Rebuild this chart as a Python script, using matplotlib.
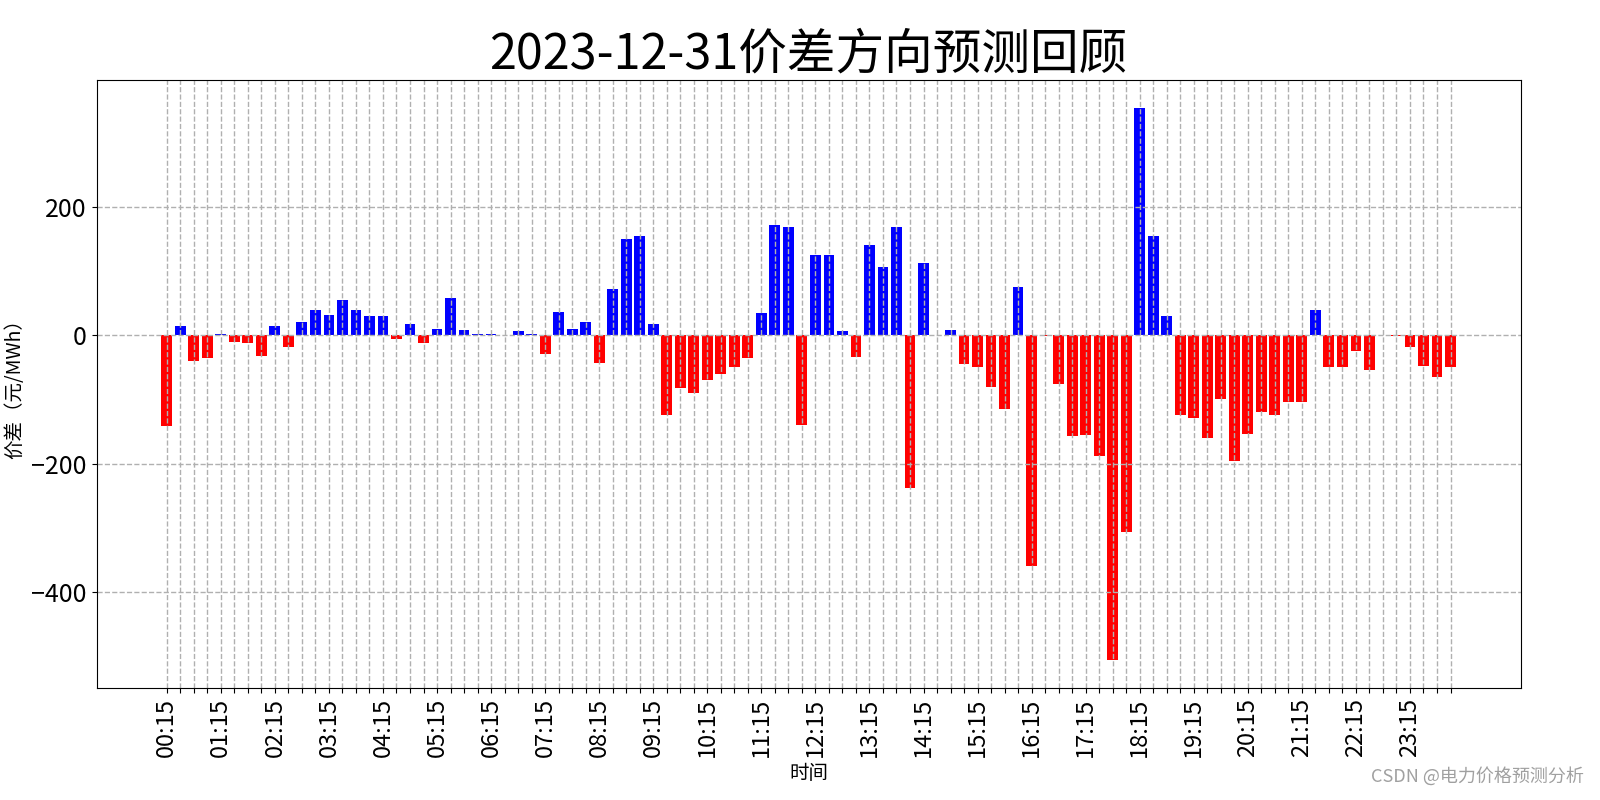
import matplotlib
matplotlib.use("Agg")
import matplotlib.pyplot as plt
import numpy as np

plt.rcParams['font.family'] = ['Noto Sans CJK SC', 'DejaVu Sans']
plt.rcParams['axes.unicode_minus'] = True

date = "2023-12-31"

# 15分钟价差 (元/MWh), 00:15 ... 24:00
spread = [
    -141, 14, -40, -35.5, 1.5, -11, -12, -32, 14, -18,
    20, 39, 31, 55, 39, 30, 30, -6, 17, -12,
    9, 58, 8, 1.5, 1.5, 0, 6, 1.5, -29, 36,
    9, 20, -43, 72, 150, 155, 17, -125, -82.5, -90,
    -70, -60.5, -49.5, -35.5, 34.5, 172, 169, -140, 125, 125,
    6.8, -34.5, 141, 106.5, 169, -237.5, 113, 0, 7.8, -45,
    -49.5, -80.5, -114.5, 74.5, -359, -1.5, -75.5, -157, -155, -188,
    -506, -306, 354, 154, 29.5, -124, -128.5, -159.5, -99, -196,
    -154, -120, -124.5, -104, -104, 39, -49.5, -49.5, -24.5, -54,
    0, -2, -18, -48, -65, -49.5,
]

times = []
for i in range(96):
    m = (i + 1) * 15
    times.append(f"{m // 60:02d}:{m % 60:02d}")

x = np.arange(len(spread))
colors = ['blue' if v > 0 else 'red' for v in spread]

fig = plt.figure(figsize=(16, 8), dpi=100)
ax = fig.add_axes([0.0604, 0.14, 0.89, 0.76])

ax.bar(x, spread, color=colors, width=0.8)
ax.grid(True, linestyle='--', color='#b0b0b0', linewidth=1.0)

ax.set_xticks(x)
ax.set_xticklabels([t if i % 4 == 0 else "" for i, t in enumerate(times)],
                   rotation=90, fontsize=17)
ax.tick_params(axis='y', labelsize=18)

ax.set_title(f"{date}价差方向预测回顾", fontsize=35)
ax.set_xlabel("时间", fontsize=14)
ax.set_ylabel("价差（元/MWh）", fontsize=14)
ax.yaxis.set_label_coords(-0.05, 0.5)

fig.text(0.99, 0.018, "CSDN @电力价格预测分析", ha='right', va='bottom',
         fontsize=13, color='#a0a0a0')

fig.savefig("out.png", dpi=100)
